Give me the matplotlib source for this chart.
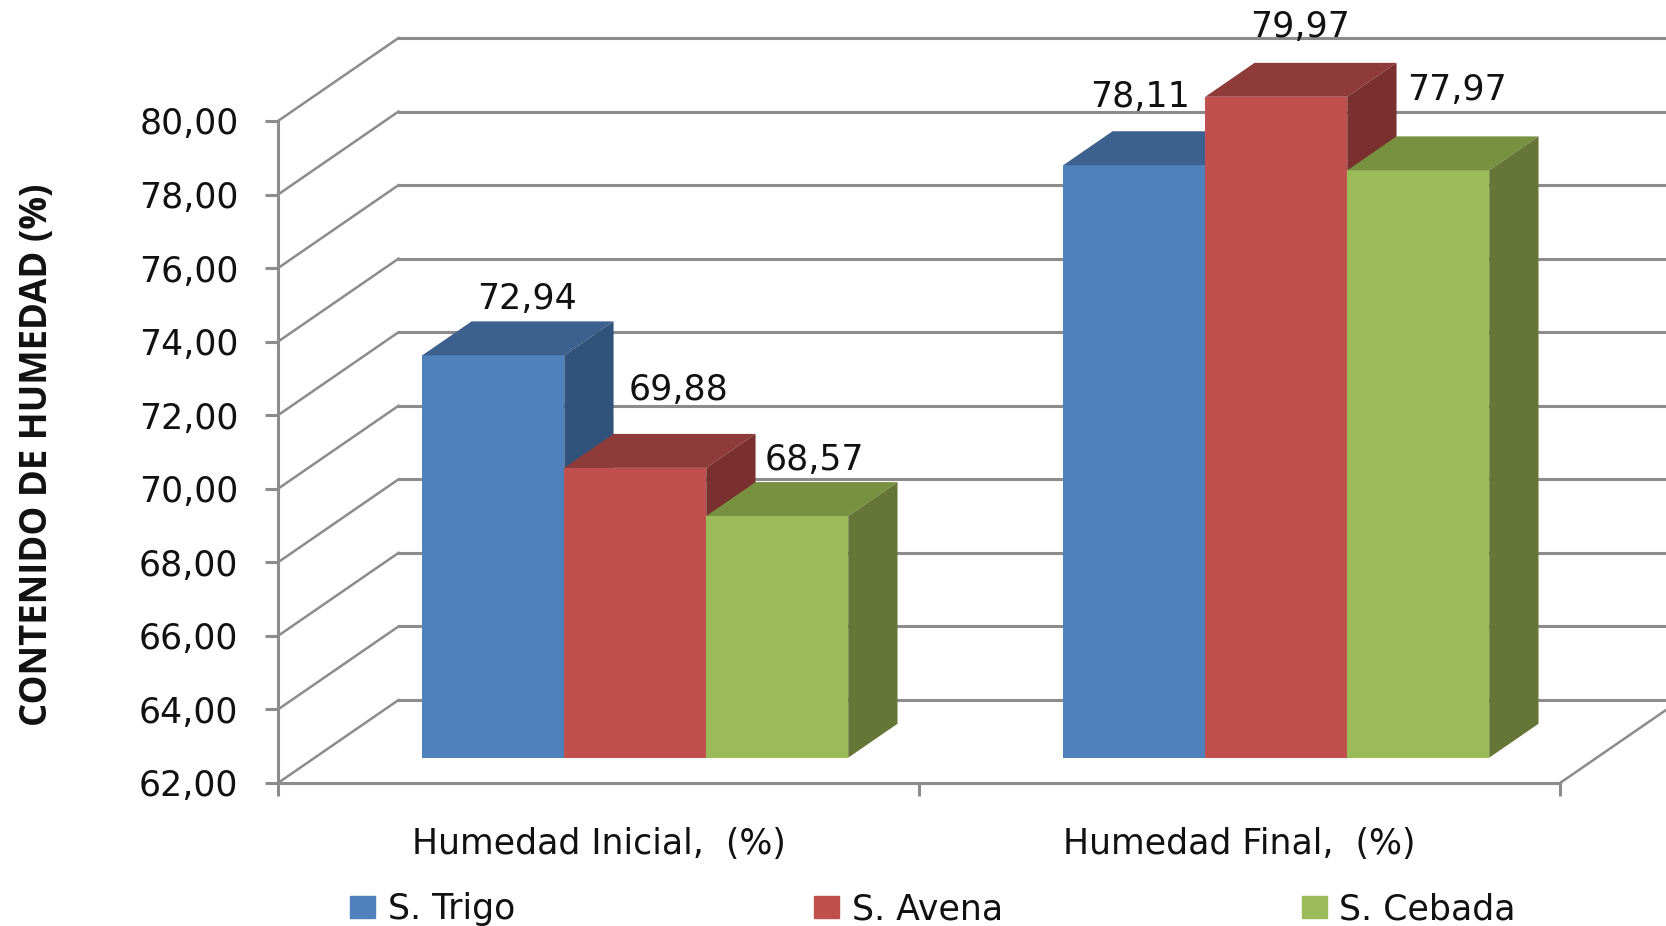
import matplotlib
matplotlib.use('Agg')
import matplotlib.pyplot as plt
from matplotlib.patches import Patch

categories = ['Humedad Inicial,  (%)', 'Humedad Final,  (%)']
series_names = ['S. Trigo', 'S. Avena', 'S. Cebada']
trigo = [72.94, 78.11]
avena = [69.88, 79.97]
cebada = [68.57, 77.97]
y_ticks = [62, 64, 66, 68, 70, 72, 74, 76, 78, 80]
y_labels = ['62,00', '64,00', '66,00', '68,00', '70,00', '72,00', '74,00', '76,00', '78,00', '80,00']

front_colors = ['#4F81BD', '#C0504D', '#9BBB59']
top_colors = ['#3C618F', '#8E3B39', '#779140']
side_colors = ['#30527B', '#7A302E', '#657637']
grid_color = '#8C8C8C'

# label offsets in pixels from the top centre of each bar
label_offsets = [[(34, 56), (6, 68)], [(43, 78), (24, 70)], [(37, 56), (39, 80)]]

# floor depth as axis offsets, bars sit between two depth fractions
DEPTH_X = 0.188
DEPTH_Y = 2.257
BAR_FRONT = 0.305
BAR_BACK = 0.714
BAR_W = 0.2215


def proj(x, y, d):
    return x + d * DEPTH_X, y + d * DEPTH_Y


def face(ax, corners, color):
    xs, ys = zip(*[proj(*c) for c in corners])
    ax.fill(xs, ys, color=color, lw=0, clip_on=False, zorder=3)


fig = plt.figure(figsize=(16.66, 9.26), dpi=100)
ax = fig.add_axes([278 / 1666, 1 - 783 / 926, (1560 - 278) / 1666, (783 - 121) / 926])

# back wall and left wall lines
for t in y_ticks:
    xb, yb = proj(-0.5, t, 1)
    ax.plot([-0.5, xb], [t, yb], color=grid_color, lw=1.8, clip_on=False, zorder=1)
    ax.plot([xb, 2.0], [yb, yb], color=grid_color, lw=2.2, clip_on=False, zorder=1)
xb, yb = proj(1.5, 62, 1)
ax.plot([1.5, xb], [62, yb], color=grid_color, lw=1.8, clip_on=False, zorder=1)

for i, values in enumerate([trigo, avena, cebada]):
    for j, v in enumerate(values):
        x0 = j + (i - 1.5) * BAR_W
        x1 = x0 + BAR_W
        face(ax, [(x0, 62, BAR_FRONT), (x1, 62, BAR_FRONT), (x1, v, BAR_FRONT), (x0, v, BAR_FRONT)], front_colors[i])
        face(ax, [(x0, v, BAR_FRONT), (x1, v, BAR_FRONT), (x1, v, BAR_BACK), (x0, v, BAR_BACK)], top_colors[i])
        face(ax, [(x1, 62, BAR_FRONT), (x1, 62, BAR_BACK), (x1, v, BAR_BACK), (x1, v, BAR_FRONT)], side_colors[i])
        lx, ly = proj(x0 + BAR_W / 2, v, BAR_FRONT)
        dx, dy = label_offsets[i][j]
        ax.annotate(f'{v:.2f}'.replace('.', ','), (lx, ly), xytext=(dx, dy), textcoords='offset pixels',
                    ha='center', va='center', fontsize=25, color='#111111', zorder=5, annotation_clip=False)

ax.set_xlim(-0.5, 1.5)
ax.set_ylim(62, 80)
ax.set_yticks(y_ticks, y_labels)
ax.set_xticks([-0.5, 0.5, 1.5], ['', '', ''])
ax.set_xticks([0, 1], categories, minor=True)
ax.tick_params(axis='y', length=9.5, width=2.2, color=grid_color, pad=19, labelsize=25, labelcolor='#111111')
ax.tick_params(axis='x', which='major', length=9, width=2.2, color=grid_color)
ax.tick_params(axis='x', which='minor', length=0, pad=32, labelsize=25, labelcolor='#111111')
for side in ['top', 'right']:
    ax.spines[side].set_visible(False)
for side in ['left', 'bottom']:
    ax.spines[side].set_color(grid_color)
    ax.spines[side].set_linewidth(2.2)
ax.patch.set_alpha(0)

fig.text(37 / 1666, 1 - 455 / 926, 'CONTENIDO DE HUMEDAD (%)', rotation=90, ha='center', va='center',
         fontsize=26.3, fontweight='bold', family='Open Sans', color='#111111')

handles = [Patch(color=c, label=n) for c, n in zip(front_colors, series_names)]
ax.legend(handles=handles, ncol=3, loc='center', bbox_to_anchor=(933 / 1666, 1 - 909 / 926),
          bbox_transform=fig.transFigure, frameon=False, fontsize=25, labelcolor='#111111',
          handlelength=0.72, handleheight=0.6, handletextpad=0.37, columnspacing=8.6, borderpad=0)

fig.savefig('out.png', dpi=100)
